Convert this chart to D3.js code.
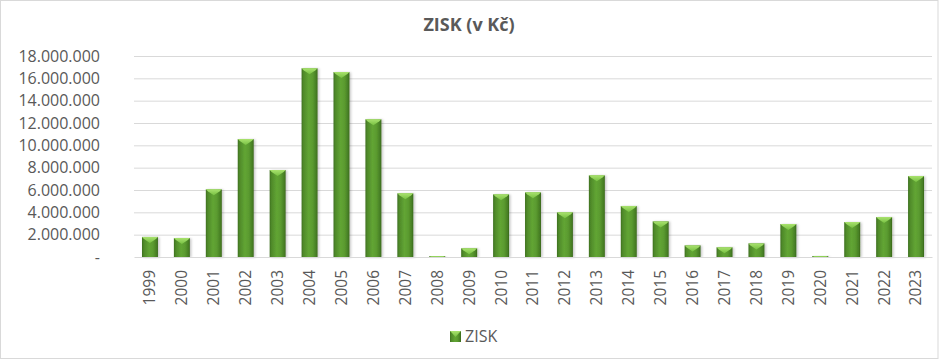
<!DOCTYPE html>
<html>
<head>
<meta charset="utf-8">
<script src="https://cdn.jsdelivr.net/npm/d3@7"></script>
<style>
  html, body { margin: 0; padding: 0; background: #fff; }
  svg { display: block; }
  text { font-family: "Open Sans", "Liberation Sans", sans-serif; fill: #595959; }
</style>
</head>
<body>
<svg id="chart" width="940" height="360"></svg>
<script>
const title = "ZISK (v Kč)";
const seriesName = "ZISK";
const years = ["1999","2000","2001","2002","2003","2004","2005","2006","2007","2008","2009","2010","2011","2012","2013","2014","2015","2016","2017","2018","2019","2020","2021","2022","2023"];
const profit = [1800000, 1700000, 6060000, 10560000, 7790000, 16900000, 16560000, 12330000, 5700000, 80000, 780000, 5610000, 5790000, 4000000, 7310000, 4570000, 3190000, 1040000, 870000, 1220000, 2950000, 90000, 3130000, 3580000, 7250000];
const yTicks = [0, 2000000, 4000000, 6000000, 8000000, 10000000, 12000000, 14000000, 16000000, 18000000];

const svg = d3.select("#chart");
const W = 940, H = 360;
const pLeft = 134, pRight = 932, pTop = 56, pBottom = 257;

// frame
svg.append("rect").attr("x", 0.5).attr("y", 0.5).attr("width", W - 2.5).attr("height", H - 2)
  .attr("fill", "#fff").attr("stroke", "#d9d9d9").attr("stroke-width", 1);

const defs = svg.append("defs");
const g1 = defs.append("linearGradient").attr("id", "barGrad").attr("x1", "0").attr("x2", "1").attr("y1", "0").attr("y2", "0");
[["0%", "#3e7020"], ["12%", "#4f8a2a"], ["45%", "#62a534"], ["70%", "#5a9a2f"], ["92%", "#467d24"], ["100%", "#386519"]]
  .forEach(([o, c]) => g1.append("stop").attr("offset", o).attr("stop-color", c));
const g2 = defs.append("linearGradient").attr("id", "capGrad").attr("x1", "0").attr("x2", "0").attr("y1", "0").attr("y2", "1");
[["0%", "#a9e26e"], ["100%", "#77c043"]].forEach(([o, c]) => g2.append("stop").attr("offset", o).attr("stop-color", c));
const f = defs.append("filter").attr("id", "shadow").attr("x", "-20%").attr("y", "-5%").attr("width", "150%").attr("height", "110%");
f.append("feDropShadow").attr("dx", 1.5).attr("dy", 0.5).attr("stdDeviation", 1).attr("flood-color", "#000").attr("flood-opacity", 0.22);

const x = d3.scaleBand().domain(years).range([pLeft, pRight]).paddingInner(0.5).paddingOuter(0.25);
const y = d3.scaleLinear().domain([0, 18000000]).range([pBottom, pTop]);

const loc = d3.formatLocale({ decimal: ",", thousands: ".", grouping: [3], currency: ["", ""] });
const fmt = loc.format(",.0f");

// gridlines
const grid = svg.append("g").attr("transform", `translate(${pLeft},0)`)
  .call(d3.axisLeft(y).tickValues(yTicks.filter(v => v > 0)).tickSize(-(pRight - pLeft)).tickFormat(""));
grid.select(".domain").remove();
grid.selectAll("line").attr("stroke", "#d9d9d9").attr("stroke-width", 1);

// y axis labels
const ya = svg.append("g").attr("transform", `translate(${pLeft},0)`)
  .call(d3.axisLeft(y).tickValues(yTicks).tickSize(0).tickPadding(34).tickFormat(v => v === 0 ? "-" : fmt(v)));
ya.select(".domain").remove();
ya.selectAll("text").attr("font-size", 16).style("font-family", "'Open Sans', sans-serif").attr("fill", "#595959");

// bars
const bars = svg.append("g");
years.forEach((yr, i) => {
  const v = profit[i];
  const bx = x(yr), bw = x.bandwidth();
  const by = y(v), bh = y(0) - y(v);
  const gb = bars.append("g").attr("filter", "url(#shadow)");
  gb.append("rect").attr("x", bx).attr("y", by).attr("width", bw).attr("height", bh).attr("fill", "url(#barGrad)");
  const capH = Math.min(6, bh);
  gb.append("path")
    .attr("d", `M${bx},${by} L${bx + bw},${by} L${bx + bw - 2},${by + Math.min(2, bh)} L${bx + bw / 2},${by + capH} L${bx + 2},${by + Math.min(2, bh)} Z`)
    .attr("fill", "url(#capGrad)");
});

// x axis
const xa = svg.append("g").attr("transform", `translate(0,${pBottom})`)
  .call(d3.axisBottom(x).tickSize(0).tickSizeOuter(0));
xa.select(".domain").attr("stroke", "#d9d9d9").attr("stroke-width", 1);
xa.selectAll("text")
  .attr("transform", "rotate(-90)")
  .attr("x", -13).attr("y", 0).attr("dy", "0.35em")
  .attr("text-anchor", "end")
  .attr("font-size", 15.5).style("font-family", "'Open Sans', sans-serif").attr("fill", "#595959");

// title
svg.append("text").attr("x", 469).attr("y", 31).attr("text-anchor", "middle")
  .attr("font-size", 18).attr("font-weight", "bold").text(title);

// legend
const lg = svg.append("g");
lg.append("rect").attr("x", 450).attr("y", 331).attr("width", 11).attr("height", 11).attr("fill", "url(#barGrad)");
lg.append("path").attr("d", "M450,331 L461,331 L459,333 L455.5,337 L452,333 Z").attr("fill", "url(#capGrad)");
lg.append("text").attr("x", 465).attr("y", 342).attr("font-size", 16).text(seriesName);
</script>
</body>
</html>
